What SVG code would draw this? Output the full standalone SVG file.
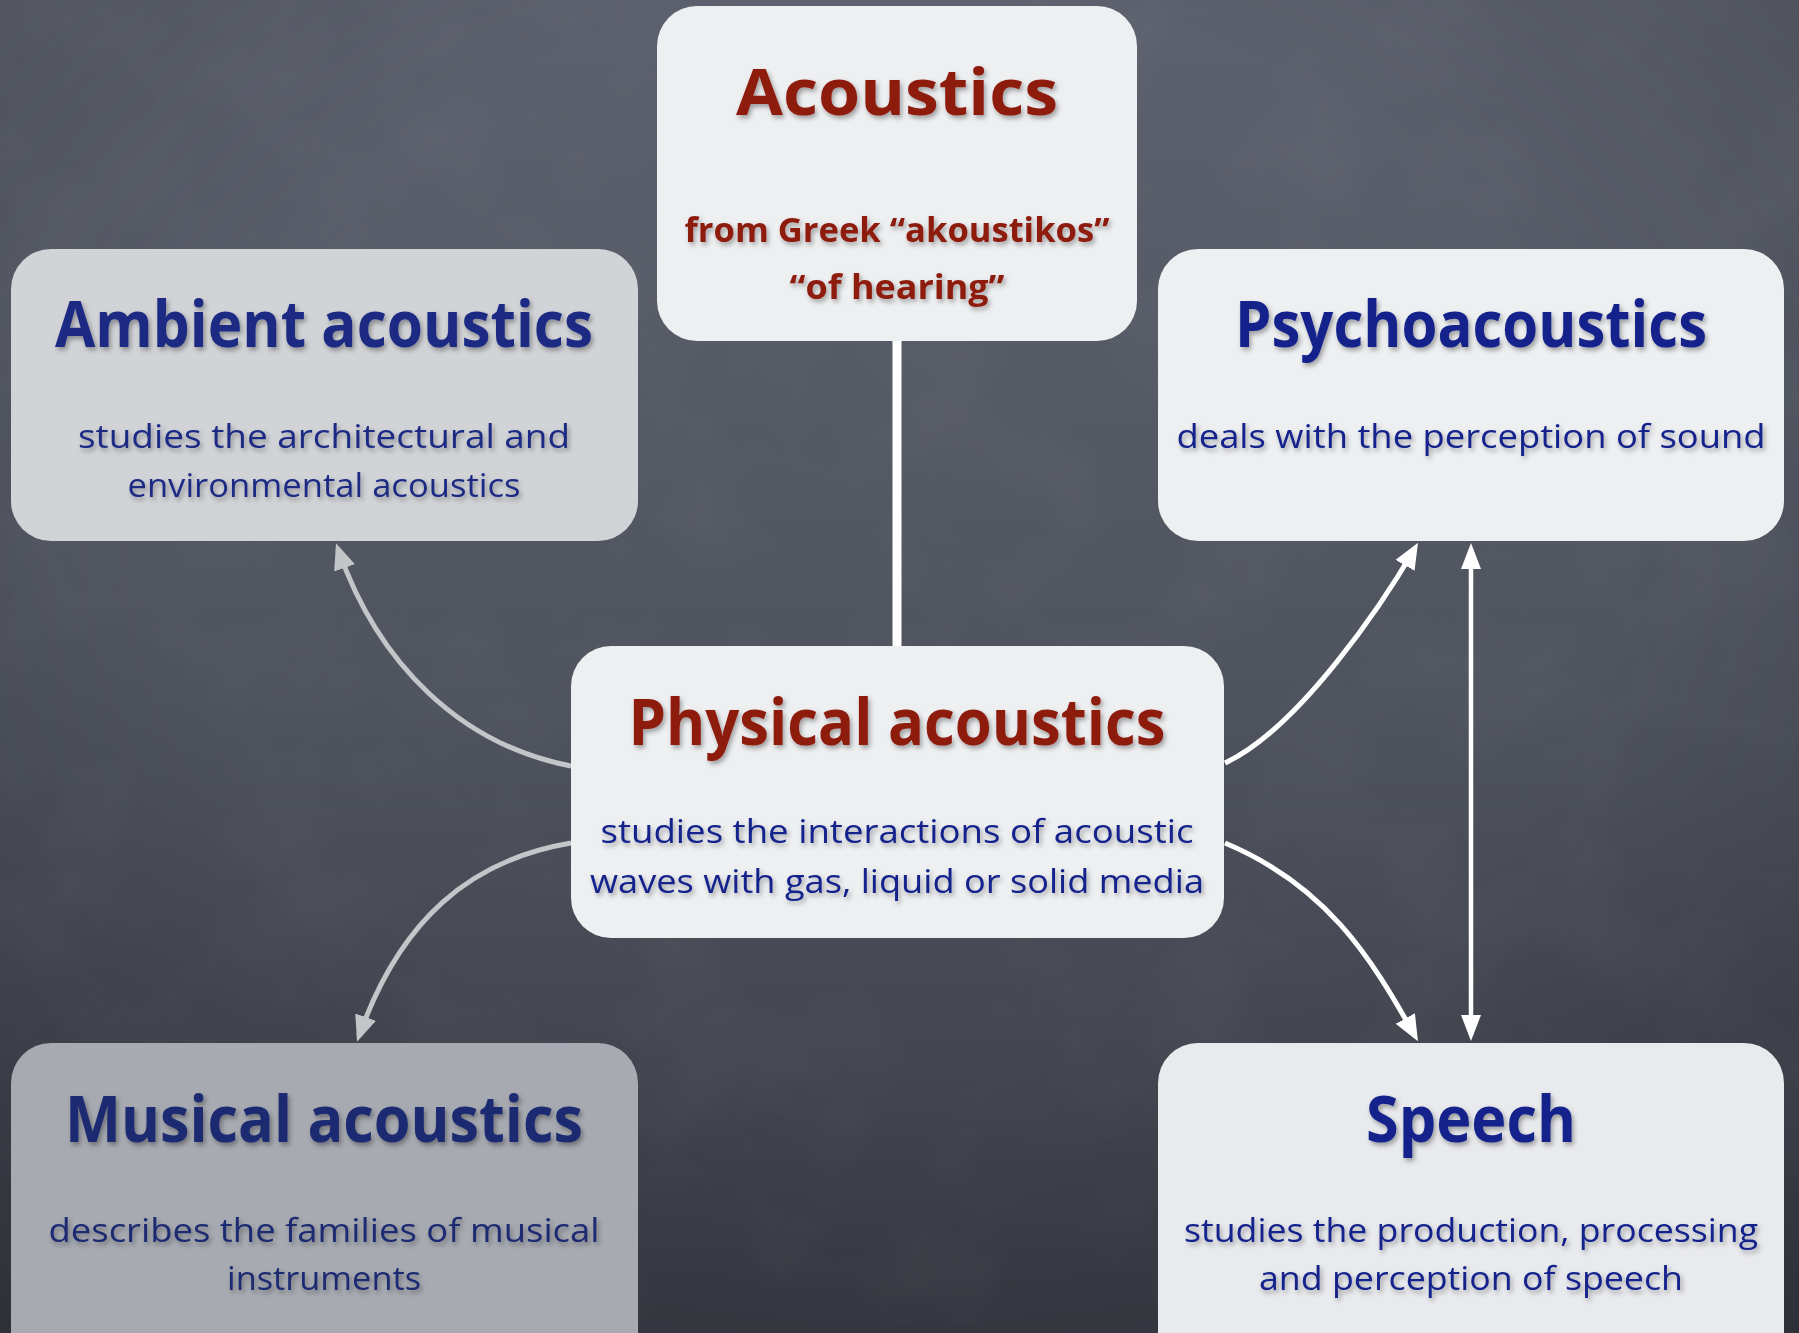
<svg xmlns="http://www.w3.org/2000/svg" width="1799" height="1333" viewBox="0 0 1799 1333">
  <defs>
    <linearGradient id="bg" x1="0" y1="0" x2="0" y2="1">
      <stop offset="0" stop-color="#5d616d"/>
      <stop offset="0.5" stop-color="#50545f"/>
      <stop offset="1" stop-color="#3a3d46"/>
    </linearGradient>
    <radialGradient id="vig" cx="0.5" cy="0.4" r="0.8">
      <stop offset="0.5" stop-color="#000" stop-opacity="0"/>
      <stop offset="1" stop-color="#000" stop-opacity="0.22"/>
    </radialGradient>
    <filter id="chalk" x="0" y="0" width="100%" height="100%">
      <feTurbulence type="fractalNoise" baseFrequency="0.008" numOctaves="4" seed="7"/>
      <feColorMatrix type="matrix" values="0 0 0 0 1  0 0 0 0 1  0 0 0 0 1  0.6 0 0 0 -0.25"/>
    </filter>
    <filter id="ts" x="-10%" y="-30%" width="120%" height="160%">
      <feDropShadow dx="2" dy="3" stdDeviation="2.5" flood-color="#000" flood-opacity="0.35"/>
    </filter>
    <marker id="ahW" markerUnits="userSpaceOnUse" markerWidth="26" markerHeight="24" viewBox="0 0 26 24" refX="20" refY="11" orient="auto-start-reverse">
      <path d="M0,0 L26,11 L0,22 z" fill="#ffffff"/>
    </marker>
    <marker id="ahG" markerUnits="userSpaceOnUse" markerWidth="26" markerHeight="24" viewBox="0 0 26 24" refX="20" refY="11" orient="auto">
      <path d="M0,0 L26,11 L0,22 z" fill="#c3c5c9"/>
    </marker>
    <marker id="ahV" markerUnits="userSpaceOnUse" markerWidth="26" markerHeight="22" viewBox="0 0 26 22" refX="20" refY="10" orient="auto-start-reverse">
      <path d="M0,0 L26,10 L0,20 z" fill="#ffffff"/>
    </marker>
  </defs>
  <style>
    .box { stroke: none; }
    .light { fill: #eeeff1; }
    .t { font-family: "Open Sans", "Noto Sans", "DejaVu Sans", sans-serif; text-anchor: middle; filter: url(#ts); }
    .title { font-weight: 700; font-size: 64px; }
    .sub { font-weight: 400; font-size: 32px; }
    .red { fill: #8e1a0f; }
    .blue { fill: #13238c; }
    .conn { fill: none; }
  </style>

  <rect x="0" y="0" width="1799" height="1333" fill="url(#bg)"/>
  <rect x="0" y="0" width="1799" height="1333" fill="url(#vig)"/>
  <rect x="0" y="0" width="1799" height="1333" filter="url(#chalk)" opacity="0.10"/>

  <g id="connectors">
    <line class="conn" x1="897" y1="330" x2="897" y2="656" stroke="#ffffff" stroke-width="9"/>
    <path class="conn" d="M571,766 C461,745 378,664 338,549" stroke="#c3c5c9" stroke-width="5" marker-end="url(#ahG)"/>
    <path class="conn" d="M571,843 C470,860 400,920 359,1036" stroke="#c3c5c9" stroke-width="5" marker-end="url(#ahG)"/>
    <path class="conn" d="M1225,763 C1300,728 1385,600 1415,548" stroke="#ffffff" stroke-width="5" marker-end="url(#ahW)"/>
    <path class="conn" d="M1225,843 C1325,885 1370,955 1415,1036" stroke="#ffffff" stroke-width="5" marker-end="url(#ahW)"/>
    <line class="conn" x1="1471" y1="549" x2="1471" y2="1035" stroke="#ffffff" stroke-width="4.5" marker-start="url(#ahV)" marker-end="url(#ahV)"/>
  </g>

  <g id="acoustics">
    <rect class="box light" x="657" y="6" width="480" height="335" rx="40"/>
    <text class="t title red" x="897" y="115" font-size="74" textLength="322" lengthAdjust="spacingAndGlyphs">Acoustics</text>
    <text class="t red" x="897" y="242" font-size="34" font-weight="700" textLength="425" lengthAdjust="spacingAndGlyphs">from Greek “akoustikos”</text>
    <text class="t red" x="897" y="299" font-size="34" font-weight="700" textLength="215" lengthAdjust="spacingAndGlyphs">“of hearing”</text>
  </g>

  <g id="ambient">
    <rect class="box" x="11" y="249" width="627" height="292" rx="40" fill="#d1d3d7"/>
    <text class="t title" x="324" y="347" fill="#1c2c84" textLength="538" lengthAdjust="spacingAndGlyphs">Ambient acoustics</text>
    <text class="t sub" x="324" y="448" fill="#1c2c84" textLength="492" lengthAdjust="spacingAndGlyphs">studies the architectural and</text>
    <text class="t sub" x="324" y="497" fill="#1c2c84" textLength="393" lengthAdjust="spacingAndGlyphs">environmental acoustics</text>
  </g>

  <g id="psychoacoustics">
    <rect class="box light" x="1158" y="249" width="626" height="292" rx="40"/>
    <text class="t title blue" x="1471" y="347" textLength="472" lengthAdjust="spacingAndGlyphs">Psychoacoustics</text>
    <text class="t sub blue" x="1471" y="448" textLength="589" lengthAdjust="spacingAndGlyphs">deals with the perception of sound</text>
  </g>

  <g id="physical">
    <rect class="box light" x="571" y="646" width="653" height="292" rx="40"/>
    <text class="t title red" x="897" y="745" textLength="537" lengthAdjust="spacingAndGlyphs">Physical acoustics</text>
    <text class="t sub blue" x="897" y="843" textLength="593" lengthAdjust="spacingAndGlyphs">studies the interactions of acoustic</text>
    <text class="t sub blue" x="897" y="893" textLength="614" lengthAdjust="spacingAndGlyphs">waves with gas, liquid or solid media</text>
  </g>

  <g id="musical">
    <rect class="box" x="11" y="1043" width="627" height="330" rx="40" fill="#a7aab1"/>
    <text class="t title" x="324" y="1142" fill="#1e2a72" textLength="518" lengthAdjust="spacingAndGlyphs">Musical acoustics</text>
    <text class="t sub" x="324" y="1242" fill="#1e2a72" textLength="551" lengthAdjust="spacingAndGlyphs">describes the families of musical</text>
    <text class="t sub" x="324" y="1290" fill="#1e2a72" textLength="194" lengthAdjust="spacingAndGlyphs">instruments</text>
  </g>

  <g id="speech">
    <rect class="box" x="1158" y="1043" width="626" height="330" rx="40" fill="#e9eaed"/>
    <text class="t title blue" x="1471" y="1142" textLength="210" lengthAdjust="spacingAndGlyphs">Speech</text>
    <text class="t sub blue" x="1471" y="1242" textLength="574" lengthAdjust="spacingAndGlyphs">studies the production, processing</text>
    <text class="t sub blue" x="1471" y="1290" textLength="424" lengthAdjust="spacingAndGlyphs">and perception of speech</text>
  </g>
</svg>
